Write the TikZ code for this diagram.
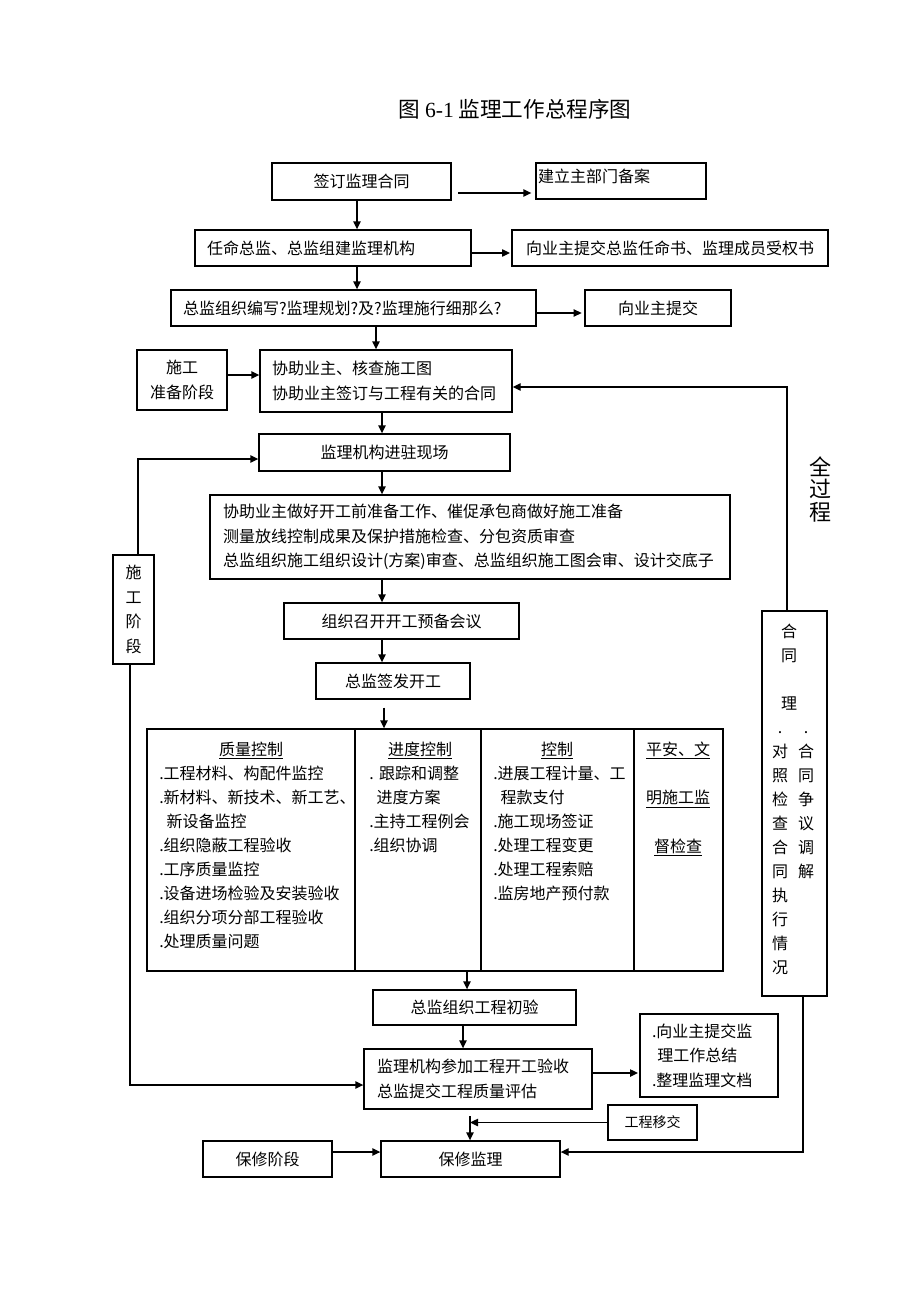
\documentclass[tikz,border=0pt]{standalone}
\usepackage{fontspec}
\setmainfont{Noto Sans CJK SC}
\newfontfamily\ser{Liberation Serif}
\usetikzlibrary{arrows.meta,calc}
\tikzset{
 box/.style={draw, line width=1pt, inner ysep=0pt, inner xsep=2pt, font=\fontsize{12}{18.5}\selectfont},
 arr/.style={line width=1pt, -{Triangle[length=6pt,width=5.5pt]}},
 txt/.style={inner sep=0pt, font=\fontsize{12}{18}\selectfont},
 rule/.style={line width=1pt},
}
\newcommand\pbox[6][]{\node[box,align=center,minimum width={(#5-#3)*0.75pt},minimum height={(#6-#4)*0.75pt},#1] (#2) at ({(#3+#5)/2},{(#4+#6)/2})}
\newcommand\lbox[7][]{\node[box,align=left,inner xsep={#3*0.75pt},text width={(#6-#4-2*#3)*0.75pt},minimum height={(#7-#5)*0.75pt},#1] (#2) at ({(#4+#6)/2},{(#5+#7)/2})}
\begin{document}
\begin{tikzpicture}[x=0.75pt,y=-0.75pt]
\fill[white] (0,0) rectangle (920,1302);
\node[txt,font=\fontsize{16.2}{18}\selectfont] (title) at (515,109) {图 {\ser 6-1} 监理工作总程序图};

% boxes
\pbox{n1}{272}{163}{451}{200}{签订监理合同};
\lbox[text depth=7.5pt]{n2}{2}{536}{163}{706}{199}{建立主部门备案};
\lbox{n3}{12}{195}{230}{471}{266}{任命总监、总监组建监理机构};
\pbox{n4}{512}{230}{828}{266}{向业主提交总监任命书、监理成员受权书};
\lbox{n5}{12}{171}{290}{536}{326}{总监组织编写?监理规划?及?监理施行细那么?};
\pbox{n6}{585}{290}{731}{326}{向业主提交};
\pbox{n7}{137}{350}{227}{410}{施工\\准备阶段};
\lbox{n8}{12}{260}{350}{512}{412}{协助业主、核查施工图\\协助业主签订与工程有关的合同};
\pbox{n9}{259}{434}{510}{471}{监理机构进驻现场};
\lbox{n10}{13}{210}{495}{730}{579}{协助业主做好开工前准备工作、催促承包商做好施工准备\\测量放线控制成果及保护措施检查、分包资质审查\\总监组织施工组织设计(方案)审查、总监组织施工图会审、设计交底子};
\pbox{n11}{284}{603}{519}{639}{组织召开开工预备会议};
\pbox{n12}{316}{663}{470}{699}{总监签发开工};

% table
\pbox{tbl}{147}{729}{723}{971}{};
\draw[rule] (355,729) -- (355,971) (481,729) -- (481,971) (634,729) -- (634,971);
\node[txt,anchor=base] (h1) at (251,755) {\underline{质量控制}};
\node[txt,anchor=base] (h2) at (420,755) {\underline{进度控制}};
\node[txt,anchor=base] (h3) at (557,755) {\underline{控制}};
\node[txt,anchor=base west,align=left,text width=150pt] (c1) at (159,779) {.工程材料、构配件监控\\.新材料、新技术、新工艺、\\\hspace*{5.5pt}新设备监控\\.组织隐蔽工程验收\\.工序质量监控\\.设备进场检验及安装验收\\.组织分项分部工程验收\\.处理质量问题};
\node[txt,anchor=base west,align=left,text width=80pt] (c2) at (369,779) {.\hspace{4pt}跟踪和调整\\\hspace*{5.5pt}进度方案\\.主持工程例会\\.组织协调};
\node[txt,anchor=base west,align=left,text width=100pt] (c3) at (493,779) {.进展工程计量、工\\\hspace*{5.5pt}程款支付\\.施工现场签证\\.处理工程变更\\.处理工程索赔\\.监房地产预付款};
\node[txt,anchor=base,align=center,text width=60pt,font=\fontsize{12}{36.4}\selectfont] (c4) at (678,755) {\underline{平安、文}\\\underline{明施工监}\\\underline{督检查}};

% side boxes
\pbox{sg}{113}{555}{154}{664}{施\\工\\阶\\段};
\pbox{ht}{762}{611}{827}{996}{};
\node[txt,anchor=base,align=center,text width=14pt] (hA) at (789,637) {合\\同\\\mbox{}\\理};
\node[txt,anchor=base,align=center,text width=14pt] (hB) at (780,733) {.\\对\\照\\检\\查\\合\\同\\执\\行\\情\\况};
\node[txt,anchor=base,align=center,text width=14pt] (hC) at (806,733) {.\\合\\同\\争\\议\\调\\解};
\node[txt,anchor=base,align=center,text width=20pt,font=\fontsize{16.5}{16.9}\selectfont] (quan) at (820,475) {全\\过\\程};

% bottom
\pbox{n13}{373}{990}{576}{1025}{总监组织工程初验};
\lbox{n14}{13}{364}{1049}{592}{1109}{监理机构参加工程开工验收\\总监提交工程质量评估};
\lbox{n15}{12}{640}{1014}{778}{1097}{.向业主提交监\\\hspace*{4pt}理工作总结\\.整理监理文档};
\pbox[font=\fontsize{10.5}{12}\selectfont]{yj}{608}{1105}{697}{1140}{工程移交};
\pbox{bx}{203}{1141}{332}{1177}{保修阶段};
\pbox{bj}{381}{1141}{560}{1177}{保修监理};

% guides
\coordinate (gx357) at (357,0);
\coordinate (gx376) at (376,0);
\coordinate (gx382) at (382,0);
\coordinate (gx384) at (384,0);
\coordinate (gx467) at (467,0);
\coordinate (gx463) at (463,0);
\coordinate (gx470) at (470,0);
\coordinate (gx138) at (138,0);
\coordinate (gx130) at (130,0);
\coordinate (gx787) at (787,0);
\coordinate (gx803) at (803,0);
\coordinate (gy193) at (0,193);
\coordinate (gy253) at (0,253);
\coordinate (gy313) at (0,313);
\coordinate (gy375) at (0,375);
\coordinate (gy387) at (0,387);
\coordinate (gy459) at (0,459);
\coordinate (gy1073) at (0,1073);
\coordinate (gy1085) at (0,1085);
\coordinate (gy1152) at (0,1152);
\coordinate (gjx) at (470,1116);

% connectors
\draw[arr,shorten <=5pt,shorten >=3pt] (n1.east |- gy193) -- (n2.west |- gy193);
\draw[arr] (n1.south -| gx357) -- (n3.north -| gx357);
\draw[arr,shorten >=1pt] (n3.east |- gy253) -- (n4.west |- gy253);
\draw[arr] (n3.south -| gx357) -- (n5.north -| gx357);
\draw[arr,shorten >=2pt] (n5.east |- gy313) -- (n6.west |- gy313);
\draw[arr] (n5.south -| gx376) -- (n8.north -| gx376);
\draw[arr] (n7.east |- gy375) -- (n8.west |- gy375);
\draw[arr] (n8.south -| gx382) -- (n9.north -| gx382);
\draw[arr] (n9.south -| gx382) -- (n10.north -| gx382);
\draw[arr] (n10.south -| gx382) -- (n11.north -| gx382);
\draw[arr] (n11.south -| gx382) -- (n12.north -| gx382);
\draw[arr,shorten <=6pt] (n12.south -| gx384) -- (tbl.north -| gx384);
\draw[arr] (tbl.south -| gx467) -- (n13.north -| gx467);
\draw[arr] (n13.south -| gx463) -- (n14.north -| gx463);
\draw[arr,shorten >=1pt] (n14.east |- gy1073) -- (n15.west |- gy1073);
\draw[arr] (sg.north -| gx138) |- (n9.west |- gy459);
\draw[arr] (sg.south -| gx130) |- (n14.west |- gy1085);
\draw[arr] (yj.west) -- (yj.west -| gx470);
\draw[arr] (gjx) -- (bj.north -| gx470);
\draw[arr] (bx.east |- gy1152) -- (bj.west |- gy1152);
\draw[arr] (ht.south -| gx803) |- (bj.east |- gy1152);
\draw[arr] (ht.north -| gx787) |- (n8.east |- gy387);
\end{tikzpicture}
\end{document}
